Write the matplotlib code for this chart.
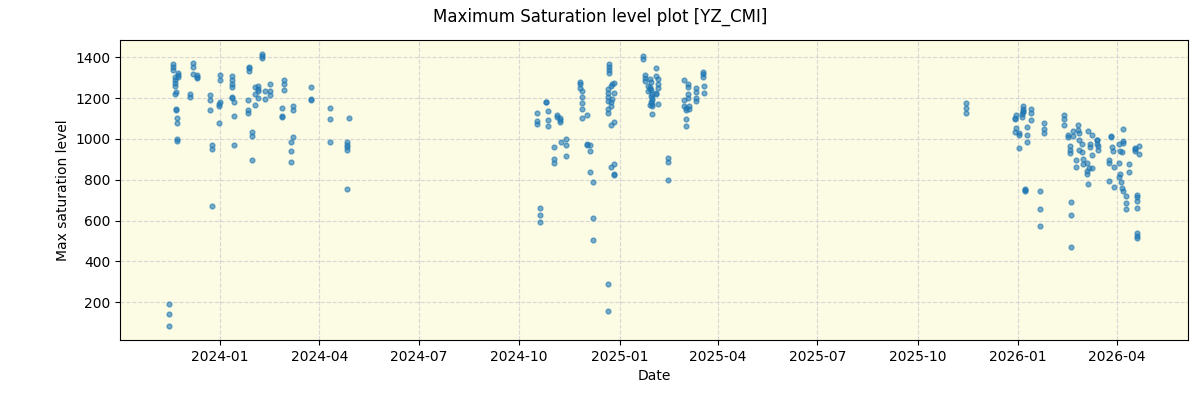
import matplotlib
matplotlib.use("Agg")
import matplotlib.pyplot as plt
import matplotlib.dates as mdates
import numpy as np
import pandas as pd

# Observation days and the max saturation levels read on each day
days_2023 = ["2023-11-15", "2023-11-19", "2023-11-21", "2023-11-22", "2023-11-23",
             "2023-11-24", "2023-12-05", "2023-12-07", "2023-12-11", "2023-12-23",
             "2023-12-25", "2023-12-31", "2024-01-01", "2024-01-12", "2024-01-14",
             "2024-01-27", "2024-01-28", "2024-01-30", "2024-02-02", "2024-02-05",
             "2024-02-09", "2024-02-11", "2024-02-16", "2024-02-27", "2024-02-29",
             "2024-03-06", "2024-03-08", "2024-03-24", "2024-04-11", "2024-04-26",
             "2024-04-28"]
levels_2023 = [[194, 144, 82], [1369, 1352, 1336], [1305, 1288, 1272, 1259, 1221],
               [1231, 1148, 1143], [1103, 1079, 998, 992], [1325, 1315, 1305],
               [1221, 1205], [1374, 1354, 1316], [1305, 1313, 1300], [1213, 1189, 1143],
               [972, 951, 671], [1170, 1161, 1079], [1311, 1287, 1182],
               [1310, 1288, 1271, 1254, 1207, 1200], [1182, 1113, 971],
               [1189, 1143, 1128], [1354, 1346, 1335], [1035, 1015, 897],
               [1256, 1221, 1167], [1259, 1243, 1235, 1202], [1418, 1408, 1398],
               [1234, 1197], [1271, 1234, 1216], [1153, 1113, 1110], [1290, 1271, 1241],
               [985, 941, 887], [1161, 1143, 1010], [1256, 1197, 1190],
               [1153, 1099, 985], [985, 969, 961, 946, 754], [1103]]

days_2024 = ["2024-10-17", "2024-10-20", "2024-10-26", "2024-10-27", "2024-11-02",
             "2024-11-05", "2024-11-07", "2024-11-08", "2024-11-13", "2024-11-26",
             "2024-11-28", "2024-12-02", "2024-12-05", "2024-12-08", "2024-12-21",
             "2024-12-22", "2024-12-24", "2024-12-25", "2024-12-27", "2025-01-22",
             "2025-01-24", "2025-01-27", "2025-01-29", "2025-01-30", "2025-01-31",
             "2025-02-03", "2025-02-05", "2025-02-14", "2025-03-01", "2025-03-03",
             "2025-03-05", "2025-03-06", "2025-03-12", "2025-03-18", "2025-03-19"]
levels_2024 = [[1128, 1087, 1075], [661, 626, 592], [1182, 1180], [1138, 1094, 1064],
               [961, 902, 882], [1115, 1108], [1103, 1094, 1084], [985],
               [1000, 971, 917], [1280, 1270, 1252], [1234, 1205, 1175, 1149, 1103],
               [1115, 977, 971], [971, 941, 838], [789, 612, 503],
               [290, 159, 1246, 1226, 1207, 1184, 1149, 1128], [1366, 1354, 1338, 1325],
               [1259, 1180, 1161, 1070, 862], [1270, 1197],
               [1274, 1226, 1085, 877, 828, 825], [1406, 1390], [1313, 1300, 1283],
               [1259, 1234], [1292, 1254, 1243, 1166], [1280, 1240, 1210, 1180],
               [1218, 1193, 1169, 1161, 1123, 1202], [1349, 1310, 1226, 1218],
               [1292, 1267, 1251, 1169], [907, 887, 798], [1287, 1189, 1161],
               [1153, 1140, 1098, 1064], [1221, 1202, 1267, 1256], [1161, 1148],
               [1248, 1231, 1202, 1185], [1330, 1318, 1303], [1259, 1226]]

days_2025 = ["2025-11-14", "2025-12-29", "2025-12-30", "2026-01-02", "2026-01-04",
             "2026-01-05", "2026-01-07", "2026-01-09", "2026-01-13", "2026-01-21",
             "2026-01-25", "2026-02-12", "2026-02-16", "2026-02-17", "2026-02-18",
             "2026-02-20", "2026-02-23", "2026-02-25", "2026-02-26", "2026-02-28",
             "2026-03-01", "2026-03-05", "2026-03-06", "2026-03-07", "2026-03-08",
             "2026-03-10", "2026-03-14", "2026-03-15", "2026-03-25", "2026-03-27",
             "2026-03-28", "2026-03-29", "2026-03-30", "2026-04-03", "2026-04-04",
             "2026-04-05", "2026-04-06", "2026-04-07", "2026-04-10", "2026-04-12",
             "2026-04-18", "2026-04-20", "2026-04-22"]
levels_2025 = [[1174, 1154, 1128], [1103, 1100, 1035], [1116, 1054], [1031, 1018, 956],
               [1107, 1120], [1161, 1148, 1136, 1131], [756, 750, 743],
               [1059, 1021, 985], [1148, 1126, 1094], [746, 656, 572],
               [1079, 1049, 1031], [1115, 1100, 1066], [1021, 1008], [964, 948, 931],
               [690, 626, 469], [1038, 1013], [895, 862], [1066, 1046],
               [1030, 997, 946], [976, 936], [900, 879], [880, 844, 828], [1040, 779],
               [857], [977, 961], [1021, 923, 857], [995, 997, 973], [964, 948],
               [898, 882, 792], [1016, 1008], [962], [943], [864, 764],
               [977, 882, 812], [939, 828], [789], [936, 759], [1049, 988, 980, 747],
               [723, 685, 656], [879, 836], [956, 943, 953],
               [727, 714, 697, 661, 538, 527, 516], [966, 926]]

dates = []
values = []
for ds, ls in [(days_2023, levels_2023), (days_2024, levels_2024), (days_2025, levels_2025)]:
    for d, vals in zip(ds, ls):
        for v in vals:
            dates.append(pd.Timestamp(d))
            values.append(v)

fig, ax = plt.subplots(figsize=(12, 4), dpi=100)
fig.subplots_adjust(left=0.1, right=0.99, bottom=0.15, top=0.9)
ax.set_facecolor("#fcfbe3")
ax.scatter(dates, values, s=12, color="tab:blue", alpha=0.6)

ax.xaxis.set_major_locator(mdates.MonthLocator(bymonth=[1, 4, 7, 10]))
ax.xaxis.set_major_formatter(mdates.DateFormatter("%Y-%m"))
ax.grid(True, linestyle="--", color="lightgray", alpha=0.9)
ax.set_axisbelow(True)

ax.set_xlabel("Date")
ax.set_ylabel("Max saturation level")
fig.suptitle("Maximum Saturation level plot [YZ_CMI]")

fig.savefig("out.png")
